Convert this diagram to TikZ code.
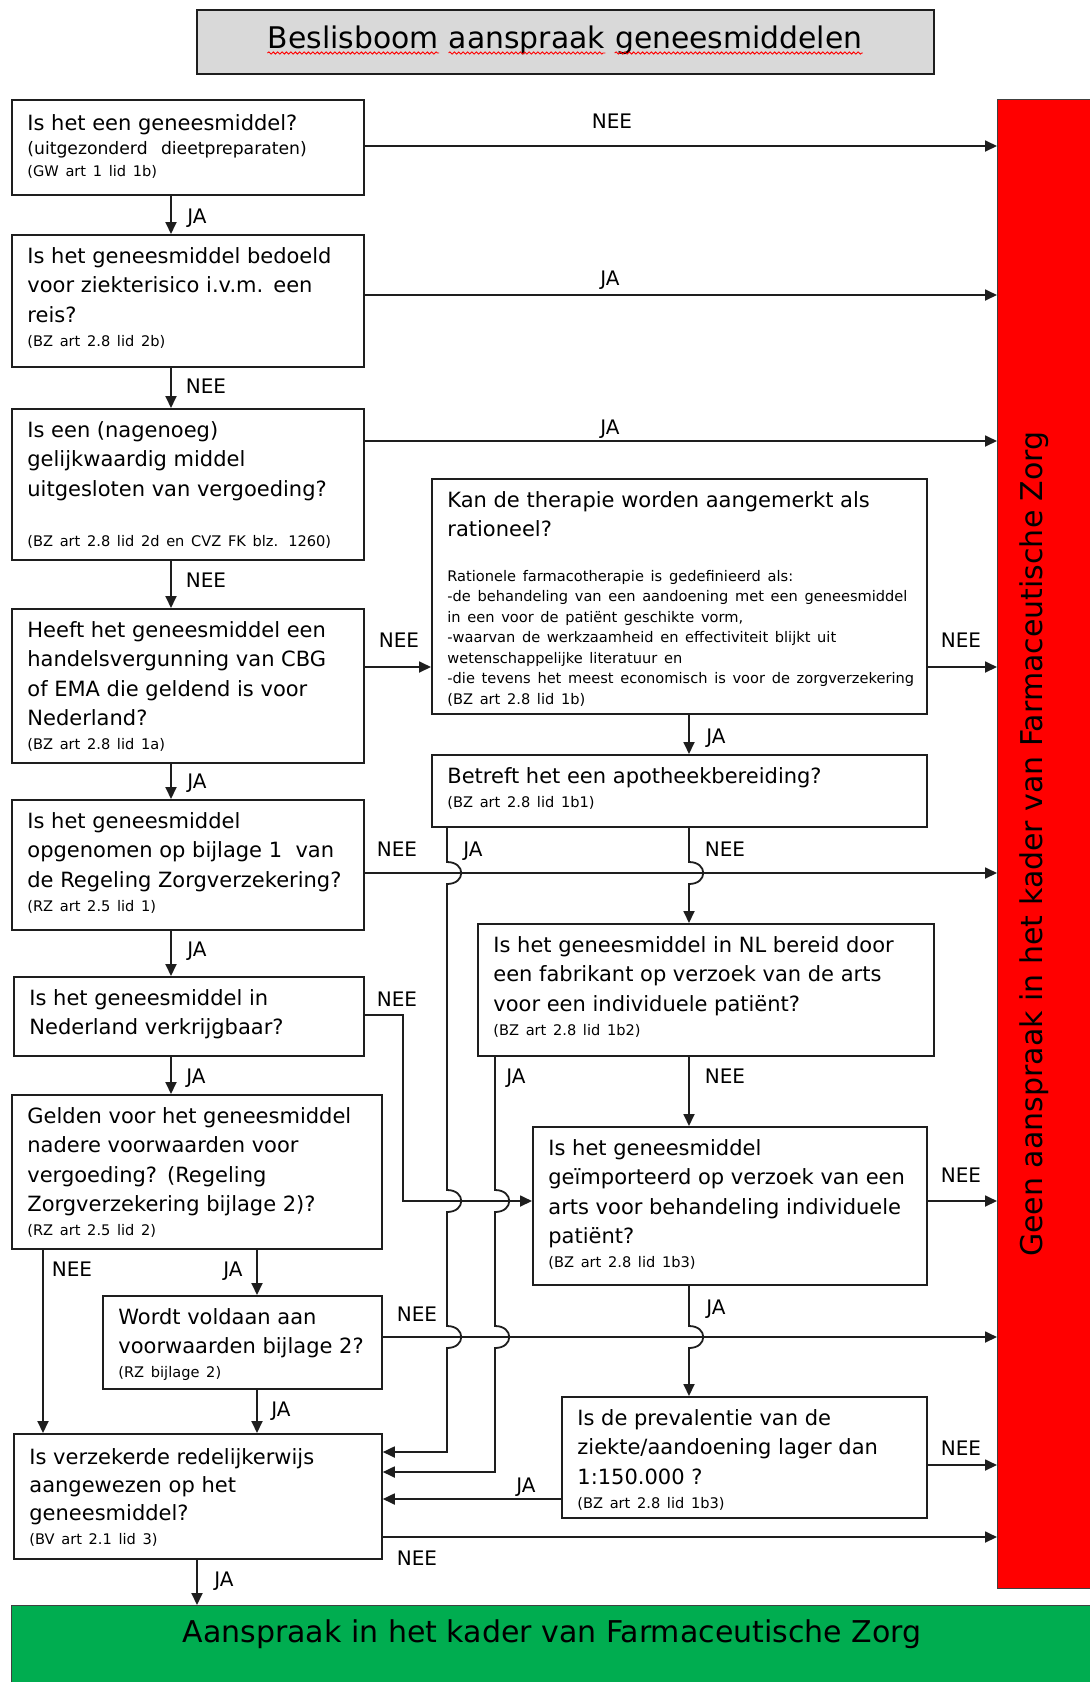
\documentclass[tikz,border=0pt]{standalone}
\usepackage{fontspec}
\setmainfont{DejaVu Sans}
\usetikzlibrary{arrows.meta,calc,decorations.pathmorphing}
\definecolor{lnc}{HTML}{1E1E1E}
\definecolor{titlegray}{HTML}{D9D9D9}
\definecolor{grn}{HTML}{00AD50}
\newcommand\lnX[3]{{\fontsize{#1}{#2}\selectfont #3\par}}
\newcommand\lnM[1]{\lnX{10.5}{14.75}{#1}}
\newcommand\lnS[2][12]{\lnX{7.3}{#1}{#2}}
\begin{document}
\begin{tikzpicture}[x=0.5pt,y=-0.5pt,
  qbox/.style={draw=lnc, line width=0.9pt, anchor=north west, inner sep=0pt, fill=white},
  qtxt/.style={anchor=base west, inner sep=0pt, text width=270pt, align=left},
  arr/.style={draw=lnc, line width=0.9pt, -{Triangle[length=6pt,width=5.5pt]}},
  lab/.style={anchor=base, inner sep=0pt, font=\fontsize{10}{12}\selectfont},
  hopv/.style={insert path={.. controls +(19,0) and +(19,0) .. ++(0,22)}},
  spell/.style={draw=red, line width=0.45pt, decorate, decoration={snake, amplitude=0.55pt, segment length=2.2pt}},
  ttl/.style={anchor=base west, inner sep=0pt, font=\fontsize{14.9}{18}\selectfont},
  big/.style={inner sep=0pt, font=\fontsize{15}{18}\selectfont}
]
\fill[white] (0,0) rectangle (1090,1682);
\useasboundingbox (0,0) rectangle (1090,1682);

% title
\node[qbox, fill=titlegray, minimum width=368.5pt, minimum height=32pt] (title) at (196,9) {};
\node[ttl] (tw1) at (267.5,48) {Beslisboom};
\node[ttl] (tw2) at ([xshift=4.74pt]tw1.base east) {aanspraak};
\node[ttl] (tw3) at ([xshift=4.74pt]tw2.base east) {geneesmiddelen};
\draw[spell] ([yshift=-2.5pt]tw1.base west) -- ([yshift=-2.5pt]tw1.base east);
\draw[spell] ([yshift=-2.5pt]tw2.base west) -- ([yshift=-2.5pt]tw2.base east);
\draw[spell] ([yshift=-2.5pt]tw3.base west) -- ([yshift=-2.5pt]tw3.base east);

% end boxes
\node[draw=black!75, line width=0.6pt, fill=red, anchor=north west, minimum width=52pt, minimum height=744.5pt, inner sep=0pt] (red) at (997,99) {};
\node[big, rotate=90] (redt) at (1034,844) {Geen aanspraak in het kader van Farmaceutische Zorg};
\node[draw=black!75, line width=0.6pt, fill=grn, anchor=north west, minimum width=545pt, minimum height=45pt, inner sep=0pt] (green) at (11,1605) {};
\node[big, anchor=base] (greent) at (552,1642) {Aanspraak in het kader van Farmaceutische Zorg};

% question boxes
\node[qbox, minimum width=176pt, minimum height=47.5pt] (b1) at (11,99) {};
\node[qbox, minimum width=176pt, minimum height=66pt] (b2) at (11,234) {};
\node[qbox, minimum width=176pt, minimum height=75.5pt] (b3) at (11,408) {};
\node[qbox, minimum width=176pt, minimum height=77pt] (b4) at (11,608) {};
\node[qbox, minimum width=176pt, minimum height=65pt] (b5) at (11,799) {};
\node[qbox, minimum width=175pt, minimum height=39.5pt] (b6) at (13,976) {};
\node[qbox, minimum width=185pt, minimum height=77pt] (b7) at (11,1094) {};
\node[qbox, minimum width=139.5pt, minimum height=46.5pt] (b8) at (102,1295) {};
\node[qbox, minimum width=184pt, minimum height=62.5pt] (b9) at (13,1433) {};
\node[qbox, minimum width=247.5pt, minimum height=117.5pt] (r1) at (431,478) {};
\node[qbox, minimum width=247.5pt, minimum height=36pt] (r2) at (431,754) {};
\node[qbox, minimum width=228pt, minimum height=66pt] (r3) at (477,923) {};
\node[qbox, minimum width=197pt, minimum height=79pt] (r4) at (532,1126) {};
\node[qbox, minimum width=182.5pt, minimum height=60.5pt] (r5) at (561,1396) {};

% texts
\node[qtxt] (b1t) at ([shift={(16,31)}]b1.north west) {\lnM{Is het een geneesmiddel?}\lnX{8.6}{12}{(uitgezonderd\ \ dieetpreparaten)}\lnS[11]{(GW art 1 lid 1b)}};
\node[qtxt] (b2t) at ([shift={(16,29)}]b2.north west) {\lnM{Is het geneesmiddel bedoeld}\lnM{voor ziekterisico i.v.m. een}\lnM{reis?}\lnS{(BZ art 2.8 lid 2b)}};
\node[qtxt] (b3t) at ([shift={(16,29)}]b3.north west) {\lnM{Is een (nagenoeg)}\lnM{gelijkwaardig middel}\lnM{uitgesloten van vergoeding?}\lnS[25]{(BZ art 2.8 lid 2d en CVZ FK blz. 1260)}};
\node[qtxt] (b4t) at ([shift={(16,29)}]b4.north west) {\lnM{Heeft het geneesmiddel een}\lnM{handelsvergunning van CBG}\lnM{of EMA die geldend is voor}\lnM{Nederland?}\lnS{(BZ art 2.8 lid 1a)}};
\node[qtxt] (b5t) at ([shift={(16,29)}]b5.north west) {\lnM{Is het geneesmiddel}\lnM{opgenomen op bijlage 1\ \ van}\lnM{de Regeling Zorgverzekering?}\lnS{(RZ art 2.5 lid 1)}};
\node[qtxt] (b6t) at ([shift={(16,29)}]b6.north west) {\lnM{Is het geneesmiddel in}\lnM{Nederland verkrijgbaar?}};
\node[qtxt] (b7t) at ([shift={(16,29)}]b7.north west) {\lnM{Gelden voor het geneesmiddel}\lnM{nadere voorwaarden voor}\lnM{vergoeding? (Regeling}\lnM{Zorgverzekering bijlage 2)?}\lnS{(RZ art 2.5 lid 2)}};
\node[qtxt] (b8t) at ([shift={(16,29)}]b8.north west) {\lnM{Wordt voldaan aan}\lnM{voorwaarden bijlage 2?}\lnS{(RZ bijlage 2)}};
\node[qtxt] (b9t) at ([shift={(16,31)}]b9.north west) {\lnX{10.5}{14}{Is verzekerde redelijkerwijs}\lnX{10.5}{14}{aangewezen op het}\lnX{10.5}{14}{geneesmiddel?}\lnS{(BV art 2.1 lid 3)}};
\node[qtxt] (r1t) at ([shift={(16,29)}]r1.north west) {\lnM{Kan de therapie worden aangemerkt als}\lnM{rationeel?}\lnS[22.25]{Rationele farmacotherapie is gedefinieerd als:}\lnS[10.25]{-de behandeling van een aandoening met een geneesmiddel}\lnS[10.25]{in een voor de patiënt geschikte vorm,}\lnS[10.25]{-waarvan de werkzaamheid en effectiviteit blijkt uit}\lnS[10.25]{wetenschappelijke literatuur en}\lnS[10.25]{-die tevens het meest economisch is voor de zorgverzekering}\lnS[10.25]{(BZ art 2.8 lid 1b)}};
\node[qtxt] (r2t) at ([shift={(16,29)}]r2.north west) {\lnM{Betreft het een apotheekbereiding?}\lnS{(BZ art 2.8 lid 1b1)}};
\node[qtxt] (r3t) at ([shift={(16,29)}]r3.north west) {\lnM{Is het geneesmiddel in NL bereid door}\lnM{een fabrikant op verzoek van de arts}\lnM{voor een individuele patiënt?}\lnS{(BZ art 2.8 lid 1b2)}};
\node[qtxt] (r4t) at ([shift={(16,29)}]r4.north west) {\lnM{Is het geneesmiddel}\lnM{geïmporteerd op verzoek van een}\lnM{arts voor behandeling individuele}\lnM{patiënt?}\lnS{(BZ art 2.8 lid 1b3)}};
\node[qtxt] (r5t) at ([shift={(16,29)}]r5.north west) {\lnM{Is de prevalentie van de}\lnM{ziekte/aandoening lager dan}\lnM{1:150.000 ?}\lnS{(BZ art 2.8 lid 1b3)}};

% routing coordinates
\coordinate (xL) at (171,0);
\coordinate (xA) at (447,0);
\coordinate (xB) at (495,0);
\coordinate (xC) at (689,0);
\coordinate (xD) at (403,0);
\coordinate (xN) at (43,0);
\coordinate (xJ) at (257,0);
\coordinate (xG) at (197,0);
\coordinate (y1) at (0,146);
\coordinate (y2) at (0,295);
\coordinate (y3) at (0,441);
\coordinate (y4) at (0,667);
\coordinate (y5) at (0,873);
\coordinate (y6) at (0,1015);
\coordinate (y7) at (0,1201);
\coordinate (y8) at (0,1337);
\coordinate (y9) at (0,1465);
\coordinate (y10) at (0,1537);
\coordinate (y11) at (0,1499);
\coordinate (y12) at (0,1452);
\coordinate (y13) at (0,1472);

% connectors
\draw[arr] (b1.east |- y1) -- (red.west |- y1);
\draw[arr] (b2.east |- y2) -- (red.west |- y2);
\draw[arr] (b3.east |- y3) -- (red.west |- y3);
\draw[arr] (xL |- b1.south) -- (xL |- b2.north);
\draw[arr] (xL |- b2.south) -- (xL |- b3.north);
\draw[arr] (xL |- b3.south) -- (xL |- b4.north);
\draw[arr] (xL |- b4.south) -- (xL |- b5.north);
\draw[arr] (xL |- b5.south) -- (xL |- b6.north);
\draw[arr] (xL |- b6.south) -- (xL |- b7.north);
\draw[arr] (b4.east |- y4) -- (r1.west |- y4);
\draw[arr] (r1.east |- y4) -- (red.west |- y4);
\draw[arr] (xC |- r1.south) -- (xC |- r2.north);
\draw[arr] (b5.east |- y5) -- (red.west |- y5);
\draw[arr] (xA |- r2.south) -- ($(xA |- y5)+(0,-11)$) [hopv] -- ($(xA |- y7)+(0,-11)$) [hopv] -- ($(xA |- y8)+(0,-11)$) [hopv] -- (xA |- y12) -- (b9.east |- y12);
\draw[arr] (xC |- r2.south) -- ($(xC |- y5)+(0,-11)$) [hopv] -- (xC |- r3.north);
\draw[arr] (xB |- r3.south) -- ($(xB |- y7)+(0,-11)$) [hopv] -- ($(xB |- y8)+(0,-11)$) [hopv] -- (xB |- y13) -- (b9.east |- y13);
\draw[arr] (xC |- r3.south) -- (xC |- r4.north);
\draw[arr] (b6.east |- y6) -- (xD |- y6) -- (xD |- y7) -- (r4.west |- y7);
\draw[arr] (r4.east |- y7) -- (red.west |- y7);
\draw[arr] (xC |- r4.south) -- ($(xC |- y8)+(0,-11)$) [hopv] -- (xC |- r5.north);
\draw[arr] (xN |- b7.south) -- (xN |- b9.north);
\draw[arr] (xJ |- b7.south) -- (xJ |- b8.north);
\draw[arr] (b8.east |- y8) -- (red.west |- y8);
\draw[arr] (xJ |- b8.south) -- (xJ |- b9.north);
\draw[arr] (r5.east |- y9) -- (red.west |- y9);
\draw[arr] (r5.west |- y11) -- (b9.east |- y11);
\draw[arr] (b9.east |- y10) -- (red.west |- y10);
\draw[arr] (xG |- b9.south) -- (xG |- green.north);

% labels
\node[lab] (l1) at (612,128) {NEE};
\node[lab] (l2) at (610,285) {JA};
\node[lab] (l3) at (610,434) {JA};
\node[lab] (l4) at (197,223) {JA};
\node[lab] (l5) at (206,393) {NEE};
\node[lab] (l6) at (206,587) {NEE};
\node[lab] (l7) at (399,647) {NEE};
\node[lab] (l8) at (961,647) {NEE};
\node[lab] (l9) at (716,743) {JA};
\node[lab] (l10) at (197,788) {JA};
\node[lab] (l11) at (397,856) {NEE};
\node[lab] (l12) at (473,856) {JA};
\node[lab] (l13) at (725,856) {NEE};
\node[lab] (l14) at (197,956) {JA};
\node[lab] (l15) at (397,1006) {NEE};
\node[lab] (l16) at (196,1083) {JA};
\node[lab] (l17) at (516,1083) {JA};
\node[lab] (l18) at (725,1083) {NEE};
\node[lab] (l19) at (961,1182) {NEE};
\node[lab] (l20) at (72,1276) {NEE};
\node[lab] (l21) at (233,1276) {JA};
\node[lab] (l22) at (716,1314) {JA};
\node[lab] (l23) at (417,1321) {NEE};
\node[lab] (l24) at (281,1416) {JA};
\node[lab] (l25) at (961,1455) {NEE};
\node[lab] (l26) at (526,1492) {JA};
\node[lab] (l27) at (417,1565) {NEE};
\node[lab] (l28) at (224,1586) {JA};
\end{tikzpicture}
\end{document}
